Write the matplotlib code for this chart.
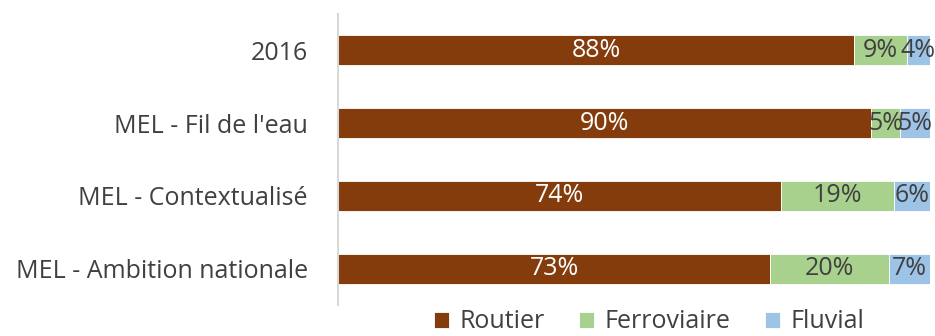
import matplotlib.pyplot as plt
import numpy as np

plt.rcParams["font.family"] = ["Open Sans", "DejaVu Sans"]

categories = ["2016", "MEL - Fil de l'eau", "MEL - Contextualisé",
              "MEL - Ambition nationale"]
routier = [88, 90, 74, 73]
ferroviaire = [9, 5, 19, 20]
fluvial = [4, 5, 6, 7]

series = [
    ("Routier", routier, "#843C0C", "white"),
    ("Ferroviaire", ferroviaire, "#A9D18E", "#404040"),
    ("Fluvial", fluvial, "#9DC3E6", "#404040"),
]

FS = 18

# 100 % stacked: widths normalised per category
totals = np.array(routier) + np.array(ferroviaire) + np.array(fluvial)
y = np.arange(len(categories))

fig = plt.figure(figsize=(9.35, 3.36), dpi=100)
ax = fig.add_axes([338 / 935, 31 / 336, 592 / 935, 291 / 336])

left = np.zeros(len(categories))
for name, vals, color, txt in series:
    w = np.array(vals) / totals * 100
    ax.barh(y, w, left=left, height=0.41, color=color, edgecolor="white",
            linewidth=0.6, label=name)
    for yi, li, wi, v in zip(y, left, w, vals):
        ax.text(li + wi / 2, yi, f"{v}%", ha="center", va="center",
                color=txt, fontsize=FS)
    left += w

ax.set_xlim(0, 100)
ax.set_ylim(len(categories) - 0.5, -0.5)
ax.set_yticks(y)
ax.set_yticklabels(categories, fontsize=FS, color="#404040")
ax.tick_params(axis="y", length=0, pad=21.6)
ax.set_xticks([])
for s in ["top", "right", "bottom"]:
    ax.spines[s].set_visible(False)
ax.spines["left"].set_color("#D9D9D9")
ax.spines["left"].set_linewidth(1.5)

handles, labels = ax.get_legend_handles_labels()
leg = fig.legend(handles, labels, loc="center",
                 bbox_to_anchor=(649 / 935, 1 - 322 / 336), ncol=3,
                 frameon=False, fontsize=FS, handlelength=0.6,
                 handleheight=0.6, handletextpad=0.4, columnspacing=1.4,
                 borderpad=0)
for t in leg.get_texts():
    t.set_color("#404040")

fig.savefig("out.png", dpi=100)
